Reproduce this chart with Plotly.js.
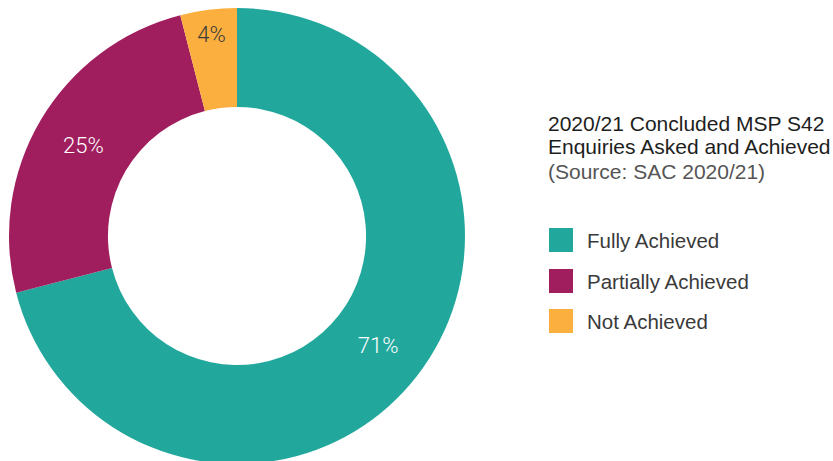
<!DOCTYPE html>
<html>
<head>
<meta charset="utf-8">
<script src="https://cdn.plot.ly/plotly-3.0.1.min.js"></script>
<style>
html, body { margin: 0; padding: 0; overflow: hidden; background: #fff; }
#chart { width: 833px; height: 472px; }
</style>
</head>
<body>
<div id="chart"></div>
<script>
const categories = ["Fully Achieved", "Partially Achieved", "Not Achieved"];
const values = [71, 25, 4];
const colors = ["#21A79C", "#A01E5E", "#FBAF3F"];
const textColors = ["#ffffff", "#ffffff", "#3a3a3a"];
const titleLines = ["2020/21 Concluded MSP S42", "Enquiries Asked and Achieved", "(Source: SAC 2020/21)"];
const titleColors = ["#1e1e1e", "#1e1e1e", "#555555"];

const W = 833, H = 472;
const px = x => x / W;
const py = y => 1 - y / H;

const trace = {
  type: "pie",
  labels: categories,
  values: values,
  sort: false,
  direction: "clockwise",
  rotation: 0,
  hole: 0.566,
  marker: { colors: colors, line: { width: 0 } },
  textinfo: "percent",
  textposition: "inside",
  insidetextorientation: "horizontal",
  textfont: { family: "Roboto, 'Liberation Sans', sans-serif", size: 22, color: textColors, weight: 300 },
  domain: { x: [px(9), px(465)], y: [py(464), py(8)] },
  showlegend: false,
  hoverinfo: "label+percent"
};

const annotations = [];
const shapes = [];

const titleY = [123, 147, 171];
titleLines.forEach((t, i) => {
  annotations.push({
    xref: "paper", yref: "paper",
    x: px(546), y: py(titleY[i]),
    xanchor: "left", yanchor: "middle", align: "left",
    showarrow: false,
    text: t,
    font: { family: "'Liberation Sans', Arial, sans-serif", size: 21, color: titleColors[i] }
  });
});

const legendY = [240, 281, 321];
categories.forEach((c, i) => {
  shapes.push({
    type: "rect", xref: "paper", yref: "paper",
    x0: px(549), x1: px(573), y0: py(legendY[i] + 12), y1: py(legendY[i] - 12),
    fillcolor: colors[i], line: { width: 0 }
  });
  annotations.push({
    xref: "paper", yref: "paper",
    x: px(585), y: py(legendY[i]),
    xanchor: "left", yanchor: "middle", align: "left",
    showarrow: false,
    text: c,
    font: { family: "'Liberation Sans', Arial, sans-serif", size: 20.5, color: "#3a3a3a" }
  });
});

const layout = {
  width: W, height: H,
  margin: { l: 0, r: 0, t: 0, b: 0 },
  paper_bgcolor: "#ffffff",
  showlegend: false,
  annotations: annotations,
  shapes: shapes
};

Plotly.newPlot("chart", [trace], layout, { displayModeBar: false, staticPlot: true });
</script>
</body>
</html>
